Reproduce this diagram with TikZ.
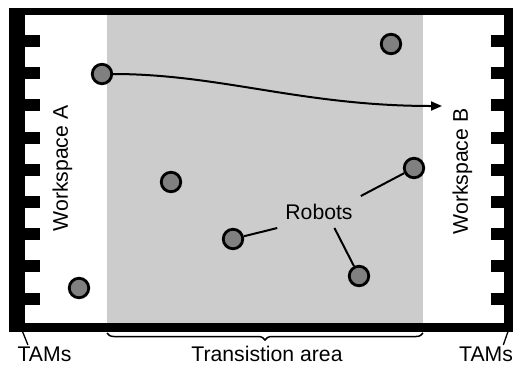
\documentclass[tikz,border=0pt]{standalone}
\usepackage{fontspec}
\setmainfont{Liberation Sans}
\usetikzlibrary{arrows.meta,decorations.pathreplacing}

\begin{document}
\begin{tikzpicture}[x=1pt,y=-1pt,
    every node/.style={font=\fontsize{21.2}{25}\selectfont,inner sep=2pt},
    robot/.style={circle,draw,line width=2.8pt,fill=black!50,minimum size=19.5pt,inner sep=0pt},
    pointer/.style={line width=2pt}]
            \useasboundingbox (0,0) rectangle (514,365);
            \fill (9,8) rectangle (513,332);
            \fill[white] (25,15) rectangle (504,323);
            \fill[black!20] (107,15) rectangle (423,323);
            \foreach \y in {0,...,8}
            {
                \fill (25,35+\y*32.2) rectangle (40,47+\y*32.2);
                \fill (491,35+\y*32.2) rectangle (504,47+\y*32.2);
            }
            \node[rotate=90] (wsA) at (62.5,168.5) {Workspace A};
            \node[rotate=90] (wsB) at (462.5,171.5) {Workspace B};
            \node[robot] (r1) at (102,74) {};
            \node[robot] (r2) at (391,44) {};
            \node[robot] (r3) at (171,182) {};
            \node[robot] (r4) at (414,168) {};
            \node[robot] (r5) at (233,239) {};
            \node[robot] (r6) at (359,276) {};
            \node[robot] (r7) at (79,288) {};
            \coordinate (goal) at (442,106);
            \draw[pointer,-{Triangle[length=11pt,width=9pt]}] (r1) .. controls (220,74) and (302,106) .. (goal);
            \node[inner xsep=8pt,inner ysep=8pt] (lbl) at (319,212) {Robots};
            \draw[pointer] (lbl.north east) -- (r4);
            \draw[pointer] (lbl.south west) -- (r5);
            \draw[pointer] (lbl.-46) -- (r6);
            \draw[line width=1.5pt,decorate,decoration={brace,mirror,amplitude=7pt}] (107,333) -- (423,333);
            \node (area) at (267,353.5) {Transistion area};
            \node (tamL) at (44.5,354.5) {TAMs};
            \node (tamR) at (486,354.5) {TAMs};
            \coordinate (barL) at (22.5,331.5);
            \coordinate (barR) at (508,331.5);
            \draw[line width=1.3pt] (barL) -- (tamL.150);
            \draw[line width=1.3pt] (barR) -- (tamR.29);
        \end{tikzpicture}
\end{document}
